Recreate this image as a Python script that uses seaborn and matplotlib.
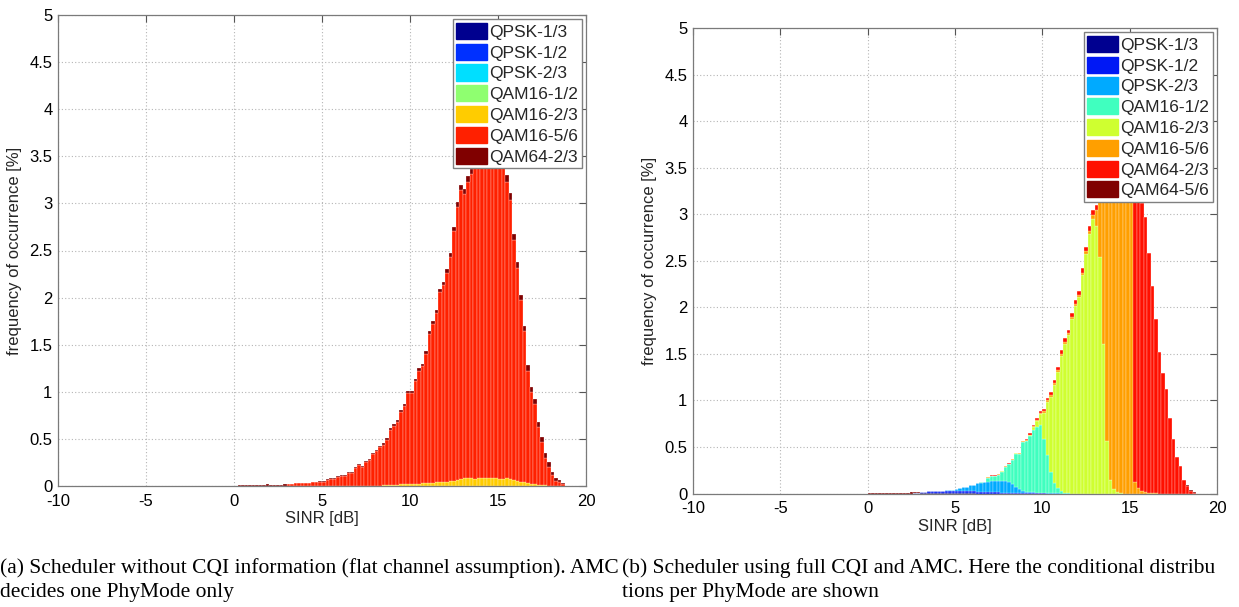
import numpy as np
import pandas as pd
import matplotlib
matplotlib.use("Agg")
import matplotlib.pyplot as plt
import seaborn as sns
from matplotlib.patches import Patch
from matplotlib.ticker import FuncFormatter

# ---------------- data (percent per 0.2 dB SINR bin, bins start at 0 dB) ----------------
BIN = 0.2
N_BINS = 95

left_modes = ["QPSK-1/3", "QPSK-1/2", "QPSK-2/3", "QAM16-1/2", "QAM16-2/3", "QAM16-5/6", "QAM64-2/3"]
left_colors = ["#00008f", "#0030ff", "#00dfff", "#8fff70", "#ffcc00", "#ff2000", "#800000"]

right_modes = ["QPSK-1/3", "QPSK-1/2", "QPSK-2/3", "QAM16-1/2", "QAM16-2/3", "QAM16-5/6", "QAM64-2/3", "QAM64-5/6"]
right_colors = ["#000090", "#0018f5", "#00aaff", "#40ffbf", "#cfff30", "#ff9f00", "#ff1000", "#800000"]

# (a) total histogram, starting at 0.0 dB
left_total = [0.005, 0.006, 0.008, 0.006, 0.009, 0.008, 0.010, 0.009, 0.012, 0.016,
              0.010, 0.012, 0.014, 0.013, 0.016, 0.021, 0.021, 0.032, 0.032, 0.032,
              0.032, 0.035, 0.042, 0.042, 0.050, 0.050, 0.071, 0.081, 0.081, 0.106,
              0.113, 0.113, 0.149, 0.149, 0.198, 0.230, 0.216, 0.262, 0.287, 0.354,
              0.382, 0.425, 0.453, 0.506, 0.612, 0.655, 0.700, 0.810, 0.870, 1.010,
              1.010, 1.140, 1.250, 1.300, 1.430, 1.650, 1.750, 1.870, 2.090, 2.170,
              2.300, 2.470, 2.750, 3.010, 3.200, 3.150, 3.290, 3.370, 3.550, 3.700,
              3.820, 3.900, 3.920, 3.850, 3.750, 3.600, 3.450, 3.300, 3.110, 2.680,
              2.380, 2.030, 1.700, 1.280, 1.050, 0.920, 0.680, 0.520, 0.350, 0.250,
              0.150, 0.080, 0.060, 0.030]
# (a) QAM16-2/3 part, starting at 8.0 dB
left_qam16_23_start = 8.0
left_qam16_23 = [0.004, 0.005, 0.007, 0.008, 0.010, 0.012, 0.014, 0.016, 0.018, 0.020,
                 0.022, 0.024, 0.026, 0.028, 0.030, 0.035, 0.036, 0.040, 0.042, 0.044,
                 0.046, 0.050, 0.055, 0.060, 0.070, 0.085, 0.090, 0.080, 0.078, 0.085,
                 0.090, 0.088, 0.090, 0.082, 0.085, 0.075, 0.072, 0.080, 0.075, 0.065,
                 0.057, 0.045, 0.040, 0.030, 0.025, 0.020, 0.015, 0.012, 0.008, 0.005,
                 0.003]
# (a) QAM64-2/3 part, starting at 0.0 dB
left_qam64_23 = [0.005, 0.006, 0.008, 0.006, 0.009, 0.008, 0.010, 0.009, 0.012, 0.016,
                 0.010, 0.012, 0.014, 0.013, 0.016, 0.003, 0.003, 0.003, 0.003, 0.003,
                 0.003, 0.003, 0.003, 0.003, 0.003, 0.004, 0.005, 0.005, 0.005, 0.006,
                 0.006, 0.006, 0.007, 0.007, 0.008, 0.009, 0.009, 0.010, 0.011, 0.012,
                 0.013, 0.014, 0.015, 0.016, 0.018, 0.020, 0.020, 0.022, 0.022, 0.025,
                 0.025, 0.027, 0.028, 0.030, 0.030, 0.032, 0.032, 0.034, 0.035, 0.036,
                 0.038, 0.040, 0.045, 0.050, 0.055, 0.055, 0.058, 0.060, 0.060, 0.062,
                 0.065, 0.065, 0.068, 0.070, 0.070, 0.070, 0.072, 0.075, 0.075, 0.070,
                 0.065, 0.060, 0.058, 0.055, 0.055, 0.050, 0.050, 0.052, 0.053, 0.045,
                 0.035, 0.025, 0.020, 0.012]

# (b) per-PhyMode parts: (start dB, values)
right_qam64_56_low = (0.0, [0.003, 0.005, 0.008, 0.008, 0.008, 0.009, 0.009, 0.010, 0.010, 0.010,
                            0.010, 0.010, 0.012, 0.012, 0.010, 0.005])
right_qam64_56_high = (18.0, [0.005, 0.008, 0.008, 0.005])
right_qpsk_13 = (2.6, [0.008, 0.010, 0.010, 0.008, 0.008, 0.006, 0.005, 0.005, 0.004, 0.004,
                       0.003, 0.003, 0.003, 0.003, 0.002, 0.002, 0.002, 0.002])
right_qpsk_12 = (3.0, [0.005, 0.012, 0.016, 0.020, 0.022, 0.023, 0.023, 0.025, 0.028, 0.028,
                       0.028, 0.027, 0.026, 0.025, 0.024, 0.022, 0.020, 0.018, 0.016, 0.015,
                       0.014, 0.012, 0.011, 0.010, 0.009, 0.008, 0.007, 0.006, 0.005, 0.004,
                       0.004, 0.003, 0.003, 0.002, 0.002, 0.001])
right_qpsk_23 = (4.2, [0.002, 0.004, 0.008, 0.010, 0.022, 0.024, 0.042, 0.044, 0.062, 0.064,
                       0.088, 0.100, 0.105, 0.110, 0.115, 0.118, 0.120, 0.122, 0.124, 0.120,
                       0.095, 0.065, 0.040, 0.024, 0.016, 0.012, 0.010, 0.008, 0.007, 0.005,
                       0.004, 0.003, 0.002, 0.001])
right_qam16_12 = (6.2, [0.005, 0.008, 0.006, 0.045, 0.060, 0.058, 0.070, 0.103, 0.152, 0.184,
                        0.259, 0.355, 0.380, 0.522, 0.540, 0.600, 0.670, 0.700, 0.730, 0.575,
                        0.410, 0.230, 0.108, 0.055, 0.022, 0.010, 0.005])
right_qam16_23 = (6.8, [0.001, 0.002, 0.002, 0.003, 0.004, 0.003, 0.004, 0.004, 0.004, 0.004,
                        0.005, 0.006, 0.010, 0.030, 0.066, 0.111, 0.286, 0.570, 0.808, 1.058,
                        1.248, 1.460, 1.600, 1.693, 1.876, 2.012, 2.110, 2.347, 2.572, 2.788,
                        2.950, 2.870, 2.540, 1.610, 0.560, 0.150, 0.050, 0.020, 0.010])
right_qam16_56 = (6.8, [0.001, 0.001, 0.002, 0.002, 0.002, 0.003, 0.003, 0.003, 0.004, 0.004,
                        0.005, 0.006, 0.008, 0.010, 0.012, 0.014, 0.015, 0.016, 0.017, 0.018,
                        0.020, 0.020, 0.020, 0.022, 0.022, 0.024, 0.025, 0.025, 0.028, 0.030,
                        0.045, 0.180, 0.720, 1.780, 3.000, 3.520, 3.720, 3.790, 3.790, 3.720,
                        3.600, 3.400, 0.120, 0.060, 0.025, 0.015, 0.010, 0.010, 0.005])
right_qam64_23 = (6.8, [0.002, 0.003, 0.003, 0.004, 0.004, 0.005, 0.005, 0.006, 0.006, 0.007,
                        0.008, 0.010, 0.014, 0.018, 0.022, 0.026, 0.028, 0.030, 0.032, 0.034,
                        0.036, 0.038, 0.040, 0.040, 0.042, 0.044, 0.045, 0.048, 0.050, 0.052,
                        0.055, 0.050, 0.045, 0.040, 0.040, 0.040, 0.040, 0.045, 0.050, 0.060,
                        0.080, 0.150, 3.250, 3.180, 3.090, 2.960, 2.570, 2.220, 1.870, 1.520,
                        1.290, 1.125, 0.815, 0.585, 0.395, 0.295, 0.140, 0.082, 0.032, 0.008])

x_ticks = [-10, -5, 0, 5, 10, 15, 20]
y_ticks = [0, 0.5, 1, 1.5, 2, 2.5, 3, 3.5, 4, 4.5, 5]
caption_a = ["(a) Scheduler without CQI information (flat channel assumption). AMC",
             "decides one PhyMode only"]
caption_b = ["(b) Scheduler using full CQI and AMC. Here the conditional distribu",
             "tions per PhyMode are shown"]


# ---------------- helpers ----------------
def place(start_db, vals):
    arr = np.zeros(N_BINS)
    i0 = int(round(start_db / BIN))
    arr[i0:i0 + len(vals)] = vals
    return arr


centers = np.arange(N_BINS) * BIN + BIN / 2

tot = place(0.0, left_total)
y23 = place(left_qam16_23_start, left_qam16_23)
d64 = place(0.0, left_qam64_23)
red = np.clip(tot - y23 - d64, 0, None)
left_parts = {m: np.zeros(N_BINS) for m in left_modes}
left_parts["QAM16-2/3"] = y23
left_parts["QAM16-5/6"] = red
left_parts["QAM64-2/3"] = d64

right_parts = {m: np.zeros(N_BINS) for m in right_modes}
right_parts["QAM64-5/6"] = place(*right_qam64_56_low) + place(*right_qam64_56_high)
right_parts["QPSK-1/3"] = place(*right_qpsk_13)
right_parts["QPSK-1/2"] = place(*right_qpsk_12)
right_parts["QPSK-2/3"] = place(*right_qpsk_23)
right_parts["QAM16-1/2"] = place(*right_qam16_12)
right_parts["QAM16-2/3"] = place(*right_qam16_23)
right_parts["QAM16-5/6"] = place(*right_qam16_56)
right_parts["QAM64-2/3"] = place(*right_qam64_23)


def to_frame(parts):
    rows = []
    for m, v in parts.items():
        rows.append(pd.DataFrame({"sinr": centers, "pct": v, "mode": m}))
    return pd.concat(rows, ignore_index=True)


# ---------------- style ----------------
sns.set_theme(style="white")
plt.rcParams["font.family"] = ["Liberation Sans", "DejaVu Sans"]
plt.rcParams["axes.unicode_minus"] = False

W, H = 1239, 607
fig = plt.figure(figsize=(W / 100, H / 100), dpi=100)


def px_axes(x0, x1, ytop, ybot):
    return fig.add_axes([x0 / W, 1 - ybot / H, (x1 - x0) / W, (ybot - ytop) / H])


ax_l = px_axes(58, 586, 15, 486)
ax_r = px_axes(693, 1217, 28, 493.5)


def draw(ax, parts, modes, colors):
    df = to_frame(parts)
    sns.histplot(data=df, x="sinr", weights="pct", hue="mode", hue_order=modes[::-1],
                 palette=dict(zip(modes, colors)), multiple="stack",
                 binwidth=BIN, binrange=(0, N_BINS * BIN),
                 ax=ax, legend=False, alpha=1, linewidth=0.35,
                 edgecolor=(1, 1, 1, 0.55))
    ax.set_xlim(-10, 20)
    ax.set_ylim(0, 5)
    ax.set_xticks(x_ticks)
    ax.set_yticks(y_ticks)
    ax.yaxis.set_major_formatter(FuncFormatter(lambda v, p: f"{v:g}"))
    ax.set_axisbelow(True)
    ax.grid(True, linestyle=(0, (1, 2)), color="#b5b5b5", linewidth=0.8)
    ax.tick_params(direction="in", top=True, right=True, length=5, width=0.8,
                   color="#555555", labelcolor="black", labelsize=12, pad=4)
    ax.tick_params(axis="x", pad=5.5)
    for s in ax.spines.values():
        s.set_color("#7a7a7a")
        s.set_linewidth(0.9)
    ax.set_xlabel("SINR [dB]", fontsize=12, labelpad=2)
    ax.set_ylabel("frequency of occurrence [%]", fontsize=12, labelpad=5)
    handles = [Patch(facecolor=c, edgecolor=c, label=m) for m, c in zip(modes, colors)]
    leg = ax.legend(handles=handles, loc="upper right", fontsize=12.5, handlelength=1.75,
                    handleheight=1.05, labelspacing=0.22, handletextpad=0.15,
                    borderpad=0.2, borderaxespad=0.25, frameon=True, fancybox=False,
                    edgecolor="#808080", framealpha=1)
    leg.get_frame().set_linewidth(1.0)


draw(ax_l, left_parts, left_modes, left_colors)
draw(ax_r, right_parts, right_modes, right_colors)

cap_kw = dict(ha="left", va="center", family=["Liberation Serif", "DejaVu Serif"],
              fontsize=15.5, color="black")
fig.text(0 / W, 1 - 568 / H, caption_a[0], **cap_kw)
fig.text(0 / W, 1 - 592 / H, caption_a[1], **cap_kw)
fig.text(622 / W, 1 - 568 / H, caption_b[0], **cap_kw)
fig.text(622 / W, 1 - 592 / H, caption_b[1], **cap_kw)

fig.savefig("out.png", dpi=100)
